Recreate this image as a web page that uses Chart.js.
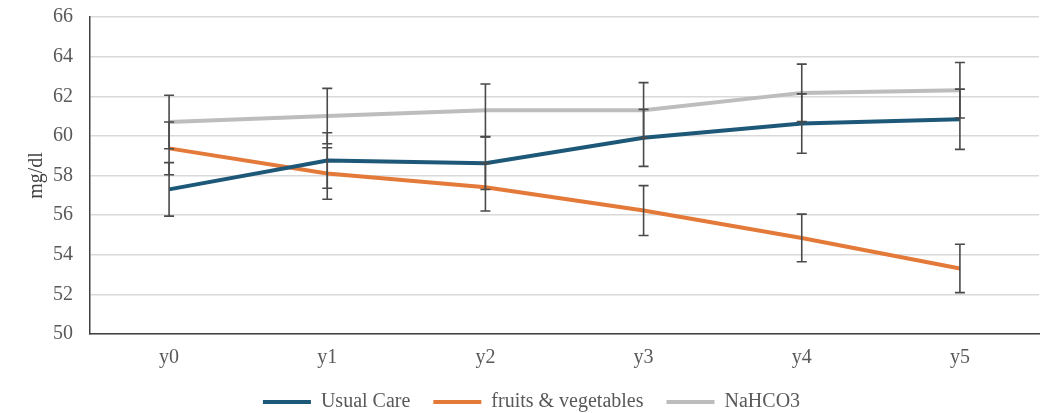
<!DOCTYPE html>
<html>
<head>
<meta charset="utf-8">
<script src="https://cdn.jsdelivr.net/npm/chart.js@4"></script>
<style>
  html, body { margin: 0; padding: 0; background: #fff; }
  #wrap { width: 1043px; height: 413px; }
</style>
</head>
<body>
<div id="wrap"><canvas id="chart"></canvas></div>
<script>
// categories
const years = ['y0', 'y1', 'y2', 'y3', 'y4', 'y5'];

// series means (mg/dl)
const usualCare = [57.3, 58.76, 58.62, 59.9, 60.62, 60.84];
const fruitsVeg = [59.37, 58.1, 57.41, 56.23, 54.85, 53.31];
const nahco3 = [60.7, 61.0, 61.29, 61.29, 62.17, 62.3];

// error bar half widths
const usualCareErr = [1.35, 1.4, 1.33, 1.44, 1.5, 1.52];
const fruitsVegErr = [1.33, 1.3, 1.2, 1.26, 1.2, 1.22];
const nahco3Err = [1.35, 1.4, 1.33, 1.4, 1.45, 1.4];

// y axis ticks
const yMin = 50, yMax = 66, yStep = 2;

const font = "'Liberation Serif', 'Times New Roman', serif";
const txt = '#595959';

// draws error bars with the chart scales
const errorBars = {
  id: 'errorBars',
  afterDatasetsDraw(chart) {
    const ctx = chart.ctx;
    const y = chart.scales.y;
    ctx.save();
    ctx.strokeStyle = '#4a4a4a';
    ctx.lineWidth = 1.6;
    chart.data.datasets.forEach((ds, i) => {
      const meta = chart.getDatasetMeta(i);
      meta.data.forEach((pt, j) => {
        const v = ds.data[j], e = ds.err[j];
        const top = y.getPixelForValue(v + e);
        const bot = y.getPixelForValue(v - e);
        ctx.beginPath();
        ctx.moveTo(pt.x, top); ctx.lineTo(pt.x, bot);
        ctx.moveTo(pt.x - 5, top); ctx.lineTo(pt.x + 5, top);
        ctx.moveTo(pt.x - 5, bot); ctx.lineTo(pt.x + 5, bot);
        ctx.stroke();
      });
    });
    ctx.restore();
  }
};

// keep the legend box short so the x labels have room
const legendHeight = {
  id: 'legendHeight',
  beforeLayout(chart) {
    const lg = chart.legend;
    if (lg && !lg._fixed) {
      const fit = lg.fit;
      lg.fit = function () { fit.call(this); this.height = 44; };
      lg._fixed = true;
    }
  }
};

function series(label, data, err, color) {
  return {
    label, data, err,
    borderColor: color, backgroundColor: color,
    borderWidth: 4, pointRadius: 0, tension: 0
  };
}

new Chart(document.getElementById('chart'), {
  type: 'line',
  data: {
    labels: years,
    datasets: [
      series('Usual Care', usualCare, usualCareErr, '#1d5878'),
      series('fruits & vegetables', fruitsVeg, fruitsVegErr, '#e47a39'),
      series('NaHCO3', nahco3, nahco3Err, '#bdbdbd')
    ]
  },
  options: {
    responsive: true,
    maintainAspectRatio: false,
    animation: false,
    layout: { padding: { top: 17, right: 4, left: 24, bottom: 0 } },
    plugins: {
      tooltip: { enabled: false },
      legend: {
        position: 'bottom',
        labels: {
          usePointStyle: true,
          pointStyle: 'line',
          pointStyleWidth: 48,
          padding: 23,
          color: txt,
          font: { family: font, size: 20 }
        }
      }
    },
    scales: {
      x: {
        offset: true,
        grid: { display: false, drawTicks: false, offset: true },
        border: { color: '#404040', width: 1.5 },
        ticks: { color: txt, font: { family: font, size: 20 }, padding: 12 },
        afterFit(s) { s.height = 35; }
      },
      y: {
        min: yMin, max: yMax,
        ticks: { stepSize: yStep, color: txt, font: { family: font, size: 20 }, padding: 17 },
        grid: { color: '#d9d9d9', lineWidth: 1.5, drawTicks: false },
        border: { color: '#404040', width: 1.5 },
        title: { display: true, text: 'mg/dl', color: '#404040', font: { family: font, size: 20 }, padding: { top: 1, bottom: 0 } },
        afterFit(s) { s.width = 66; s.paddingTop = 0; s.paddingBottom = 0; }
      }
    }
  },
  plugins: [errorBars, legendHeight]
});
</script>
</body>
</html>
